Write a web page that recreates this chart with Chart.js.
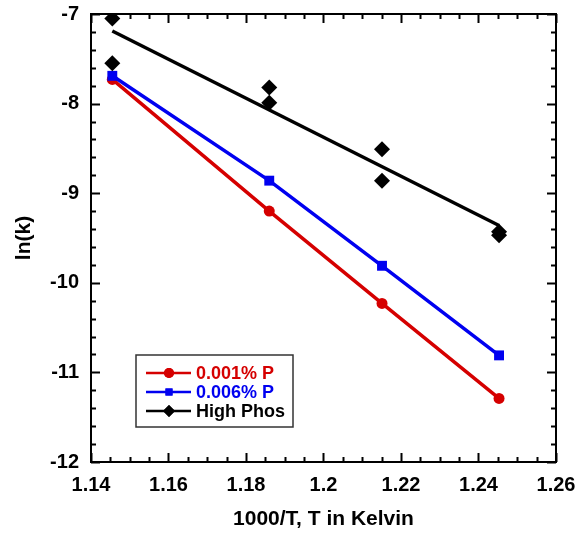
<!DOCTYPE html>
<html>
<head>
<meta charset="utf-8">
<script src="https://cdn.jsdelivr.net/npm/chart.js@4"></script>
<style>
  html, body { margin: 0; padding: 0; background: #fff; }
  #wrap { width: 582px; height: 533px; }
</style>
</head>
<body>
<div id="wrap"><canvas id="arrhenius"></canvas></div>
<script>
// data
const invT = [1.1455, 1.186, 1.2151, 1.2453];
const lowP = [-7.73, -9.20, -10.23, -11.29];
const midP = [-7.69, -8.86, -9.81, -10.81];
const highX = [1.1455, 1.1455, 1.186, 1.186, 1.2151, 1.2151, 1.2453, 1.2453];
const highP = [-7.05, -7.55, -7.82, -7.99, -8.51, -8.86, -9.43, -9.47];
const fitX = [1.1455, 1.2453];
const fitHigh = [-7.19, -9.36];
const xTicks = [1.14, 1.16, 1.18, 1.2, 1.22, 1.24, 1.26];
const yTicks = [-7, -8, -9, -10, -11, -12];

const RED = '#d50000', BLUE = '#0000f0', BLACK = '#000';
const pts = (xs, ys) => xs.map((x, i) => ({ x: x, y: ys[i] }));

// inward ticks on all four sides + frame
const frame = {
  id: 'frame',
  afterDraw(chart) {
    const { ctx, chartArea: a, scales: { x, y } } = chart;
    ctx.save();
    ctx.strokeStyle = '#000';
    ctx.lineWidth = 2;
    for (let v = 1.14; v <= 1.2601; v += 0.005) {
      const px = Math.round(x.getPixelForValue(v)) + 0.5;
      const major = Math.abs(v / 0.02 - Math.round(v / 0.02)) < 1e-6;
      const len = major ? 9 : 5;
      ctx.beginPath();
      ctx.moveTo(px, a.bottom); ctx.lineTo(px, a.bottom - len);
      ctx.moveTo(px, a.top); ctx.lineTo(px, a.top + len);
      ctx.stroke();
    }
    for (let v = -12; v <= -6.999; v += 0.2) {
      const py = Math.round(y.getPixelForValue(v)) + 0.5;
      const major = Math.abs(v - Math.round(v)) < 1e-6;
      const len = major ? 9 : 5;
      ctx.beginPath();
      ctx.moveTo(a.left, py); ctx.lineTo(a.left + len, py);
      ctx.moveTo(a.right, py); ctx.lineTo(a.right - len, py);
      ctx.stroke();
    }
    ctx.strokeRect(a.left, a.top, a.right - a.left, a.bottom - a.top);
    ctx.restore();
  }
};

// legend box drawn like the original (line + marker + coloured text)
const legendBox = {
  id: 'legendBox',
  afterDraw(chart) {
    const { ctx } = chart;
    const bx = 136, by = 355, bw = 157, bh = 72;
    ctx.save();
    ctx.fillStyle = '#fff';
    ctx.fillRect(bx, by, bw, bh);
    ctx.strokeStyle = '#333';
    ctx.lineWidth = 1.5;
    ctx.strokeRect(bx, by, bw, bh);
    const items = [
      { text: '0.001% P', color: RED, style: 'circle' },
      { text: '0.006% P', color: BLUE, style: 'rect' },
      { text: 'High Phos', color: BLACK, style: 'rectRot' }
    ];
    ctx.font = 'bold 18px "Liberation Sans", Arial, sans-serif';
    ctx.textBaseline = 'middle';
    items.forEach((it, i) => {
      const cy = by + 18 + i * 19;
      ctx.strokeStyle = it.color;
      ctx.lineWidth = 2.5;
      ctx.beginPath();
      ctx.moveTo(bx + 10, cy); ctx.lineTo(bx + 55, cy);
      ctx.stroke();
      ctx.fillStyle = it.color;
      Chart.helpers.drawPoint(ctx, { pointStyle: it.style, radius: it.style === 'rectRot' ? 6 : 5, borderWidth: 0 }, bx + 33, cy);
      ctx.fill();
      ctx.fillText(it.text, bx + 60, cy + 1);
    });
    ctx.restore();
  }
};

const tickFont = { family: '"Liberation Sans", Arial, sans-serif', size: 20, weight: 'bold' };
const titleFont = { family: '"Liberation Sans", Arial, sans-serif', size: 21, weight: 'bold' };

// drop the label overflow padding so the plot box sits where the layout padding says
const noOverflow = s => {
  s.paddingTop = 0; s.paddingBottom = 0; s.paddingLeft = 0; s.paddingRight = 0;
};

new Chart(document.getElementById('arrhenius'), {
  type: 'scatter',
  data: {
    datasets: [
      {
        label: 'High Phos fit',
        data: pts(fitX, fitHigh),
        showLine: true,
        borderColor: BLACK,
        borderWidth: 3.5,
        pointRadius: 0
      },
      {
        label: 'High Phos',
        data: pts(highX, highP),
        pointStyle: 'rectRot',
        pointRadius: 8,
        backgroundColor: BLACK,
        borderColor: BLACK,
        borderWidth: 0
      },
      {
        label: '0.006% P',
        data: pts(invT, midP),
        showLine: true,
        borderColor: BLUE,
        borderWidth: 3.5,
        pointStyle: 'rect',
        pointRadius: 7,
        backgroundColor: BLUE,
        pointBorderWidth: 0
      },
      {
        label: '0.001% P',
        data: pts(invT, lowP),
        showLine: true,
        borderColor: RED,
        borderWidth: 3.5,
        pointStyle: 'circle',
        pointRadius: 5.5,
        backgroundColor: RED,
        pointBorderWidth: 0
      }
    ]
  },
  options: {
    responsive: true,
    maintainAspectRatio: false,
    animation: false,
    layout: { padding: { left: 0, top: 14, right: 26, bottom: 0 } },
    plugins: {
      legend: { display: false },
      tooltip: { enabled: false }
    },
    scales: {
      x: {
        type: 'linear',
        min: 1.14,
        max: 1.26,
        afterFit: s => { s.height = 71; noOverflow(s); },
        afterBuildTicks: s => { s.ticks = xTicks.map(v => ({ value: v })); },
        grid: { display: false, drawTicks: false },
        border: { display: false },
        ticks: {
          padding: 11,
          color: '#000',
          font: tickFont,
          callback: v => String(+v.toFixed(2))
        },
        title: {
          display: true,
          text: '1000/T, T in Kelvin',
          color: '#000',
          font: titleFont,
          padding: { top: 0, bottom: 1 }
        }
      },
      y: {
        type: 'linear',
        min: -12,
        max: -7,
        afterFit: s => { s.width = 91; noOverflow(s); },
        afterBuildTicks: s => { s.ticks = yTicks.map(v => ({ value: v })); },
        grid: { display: false, drawTicks: false },
        border: { display: false },
        ticks: {
          padding: 12,
          color: '#000',
          font: tickFont
        },
        title: {
          display: true,
          text: 'ln(k)',
          color: '#000',
          font: titleFont,
          padding: { top: 12, bottom: 0 }
        }
      }
    }
  },
  plugins: [frame, legendBox]
});
</script>
</body>
</html>
